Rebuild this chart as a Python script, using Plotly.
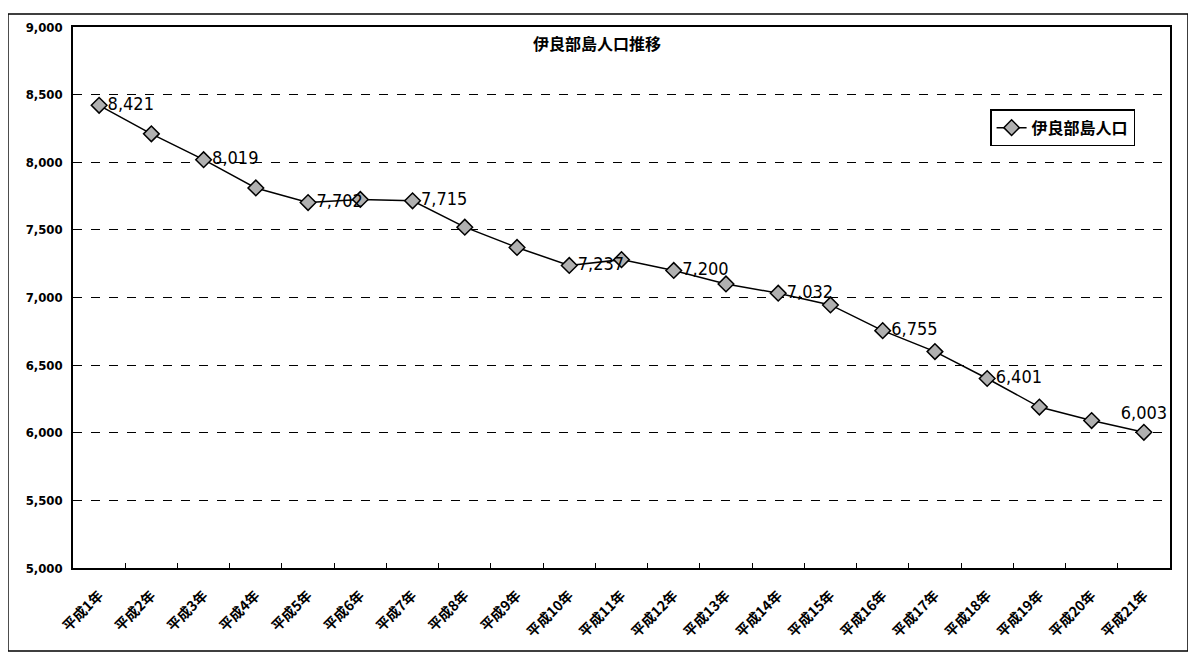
import plotly.graph_objects as go

categories = [f"平成{i}年" for i in range(1, 22)]
population = [8421, 8210, 8019, 7810, 7702, 7725, 7715, 7520, 7370, 7237,
              7280, 7200, 7100, 7032, 6945, 6755, 6600, 6401, 6190, 6090, 6003]
labeled = [0, 2, 4, 6, 9, 11, 13, 15, 17, 20]
y_ticks = [5000, 5500, 6000, 6500, 7000, 7500, 8000, 8500, 9000]
series_name = "伊良部島人口"
title_text = "伊良部島人口推移"

texts = [f"{v:,}" if i in labeled else "" for i, v in enumerate(population)]
positions = ["top center" if i == 20 else "middle right" for i in range(len(population))]

num_font = "DejaVu Sans Condensed, Liberation Sans Narrow, Liberation Sans, sans-serif"
cjk_font = "Noto Sans CJK JP, sans-serif"

fig = go.Figure()
fig.add_trace(go.Scatter(
    x=categories, y=population, mode="lines+markers+text", name=series_name,
    line=dict(color="black", width=1.5),
    marker=dict(symbol="diamond", size=12, color="#b0b0b0",
                line=dict(color="black", width=1.5)),
    text=texts, textposition=positions,
    textfont=dict(family=num_font, size=18, color="black"),
    cliponaxis=False,
))

fig.update_layout(
    width=1188, height=651,
    margin=dict(l=65, r=26, t=13, b=91),
    paper_bgcolor="white", plot_bgcolor="white",
    showlegend=True,
    legend=dict(x=0.836, y=0.848, xanchor="left", yanchor="top",
                bordercolor="black", borderwidth=1.5, bgcolor="white",
                font=dict(family=cjk_font, size=16, color="black", weight="bold")),
    annotations=[dict(text=title_text, xref="paper", yref="paper",
                      x=0.478, y=0.97, xanchor="center", yanchor="middle",
                      showarrow=False,
                      font=dict(family=cjk_font, size=16, color="black", weight="bold"))],
    shapes=[dict(type="rect", xref="paper", yref="paper",
                 x0=-0.0593, x1=1.0164, y0=-0.1536, y1=1.0238,
                 line=dict(color="black", width=1.5))],
)
fig.update_xaxes(
    type="category", range=[-0.5, 20.5], showgrid=False,
    showline=True, linecolor="black", linewidth=1.5, mirror=True,
    ticks="inside", tickson="boundaries", ticklen=5, tickcolor="black",
    tickangle=-45, ticklabelstandoff=12,
    tickfont=dict(family=cjk_font, size=14, color="black", weight="bold"),
)
fig.update_yaxes(
    range=[5000, 9000], tickvals=y_ticks,
    ticktext=[f"{v:,}" for v in y_ticks],
    showgrid=True, gridcolor="black", gridwidth=1, griddash="dash",
    showline=True, linecolor="black", linewidth=1.5, mirror=True,
    ticks="", ticklabelstandoff=6,
    tickfont=dict(family=num_font, size=13, color="black", weight="bold"),
    zeroline=False,
)

fig.write_html("out.html")
